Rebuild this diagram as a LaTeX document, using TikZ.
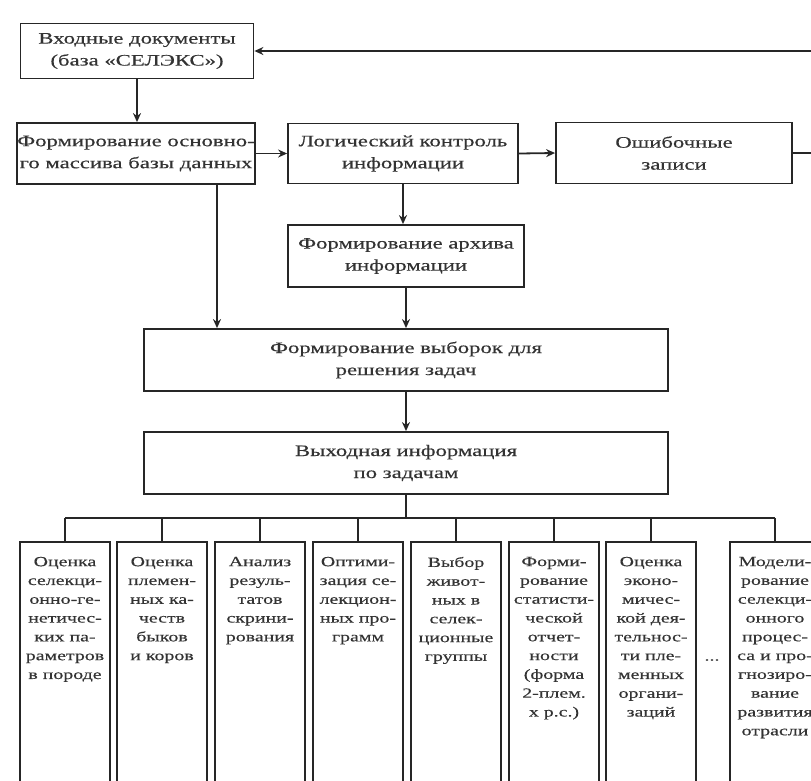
\documentclass[tikz,border=0pt]{standalone}
\usepackage{fontspec}
\setmainfont[FakeStretch=1.42,FakeBold=0.4]{Liberation Serif}
\usetikzlibrary{arrows.meta,calc}
\newcommand{\colbox}[1]{\parbox[t][262pt][t]{90pt}{\vspace*{15pt}\centering\fontsize{14}{18.8}\selectfont #1}}
\begin{document}
\begin{tikzpicture}[x=1pt,y=-1pt,
 box/.style={draw=black!85,line width=1.8pt,inner sep=0pt,align=center,
   font=\fontsize{16}{22}\selectfont,text=black!80},
 sbox/.style={draw=black!85,line width=1.8pt,inner sep=0pt,anchor=north,
   minimum width=89pt,text=black!80},
 arr/.style={line width=1.8pt,draw=black!85,-{Stealth[length=9pt,width=8pt]}},
 ln/.style={line width=1.8pt,draw=black!85}]
\useasboundingbox (0,0) rectangle (811,780);
\clip (0,0) rectangle (811,780);

\node[box,minimum width=233pt,minimum height=55pt] (b1) at (137,51)
  {Входные документы\\(база «СЕЛЭКС»)};
\node[box,minimum width=235pt,minimum height=61pt] (b2) at (136,153.5)
  {Формирование основно-\\го массива базы данных};
\node[box,minimum width=230pt,minimum height=60pt] (b3) at (403,153.5)
  {Логический контроль\\информации};
\node[box,minimum width=236pt,minimum height=61pt] (b4) at (674,153)
  {Ошибочные\\записи};
\node[box,minimum width=236pt,minimum height=62pt] (b5) at (406,256)
  {Формирование архива\\информации};
\node[box,minimum width=524pt,minimum height=62pt] (b6) at (406,360)
  {Формирование выборок для\\решения задач};
\node[box,minimum width=524pt,minimum height=62pt] (b7) at (406,463)
  {Выходная информация\\по задачам};

\node[sbox] (c1) at (65,541) {\colbox{Оценка\\селекци-\\онно-ге-\\нетичес-\\ких па-\\раметров\\в породе}};
\node[sbox] (c2) at (162,541) {\colbox{Оценка\\племен-\\ных ка-\\честв\\быков\\и коров}};
\node[sbox] (c3) at (260,541) {\colbox{Анализ\\резуль-\\татов\\скрини-\\рования}};
\node[sbox] (c4) at (358,541) {\colbox{Оптими-\\зация се-\\лекцион-\\ных про-\\грамм}};
\node[sbox] (c5) at (456,541) {\colbox{Выбор\\живот-\\ных в\\селек-\\ционные\\группы}};
\node[sbox] (c6) at (554,541) {\colbox{Форми-\\рование\\статисти-\\ческой\\отчет-\\ности\\(форма\\2-плем.\\х р.с.)}};
\node[sbox] (c7) at (651,541) {\colbox{Оценка\\эконо-\\мичес-\\кой дея-\\тельнос-\\ти пле-\\менных\\органи-\\заций}};
\node[sbox] (c8) at (775,541) {\colbox{Модели-\\рование\\селекци-\\онного\\процес-\\са и про-\\гнозиро-\\вание\\развития\\отрасли}};
\node[text=black!70,font=\fontsize{14}{16}\selectfont] (dots) at (712,660) {...};

% arrows
\draw[arr] (b1.south) -- (b1.south |- b2.north);
\draw[arr] (b2.east) -- (b3.west);
\draw[arr] (b3.east) -- (b4.west);
\coordinate (fr) at (830,153);
\draw[arr] (b4.east) -- (fr) -- (fr |- b1.east) -- (b1.east);
\draw[arr] ($(b2.south)+(81,0)$) coordinate (d2) -- (d2 |- b6.north);
\draw[arr] (b3.south) -- (b3.south |- b5.north);
\draw[arr] (b5.south) -- (b6.north);
\draw[arr] (b6.south) -- (b7.north);

% bus
\coordinate (bus) at (406,518);
\draw[ln] (b7.south) -- (bus);
\draw[ln] (c1.north |- bus) -- (c8.north |- bus);
\foreach \c in {c1,c2,c3,c4,c5,c6,c7,c8}
  \draw[ln] (\c.north |- bus) -- (\c.north);
\end{tikzpicture}
\end{document}
